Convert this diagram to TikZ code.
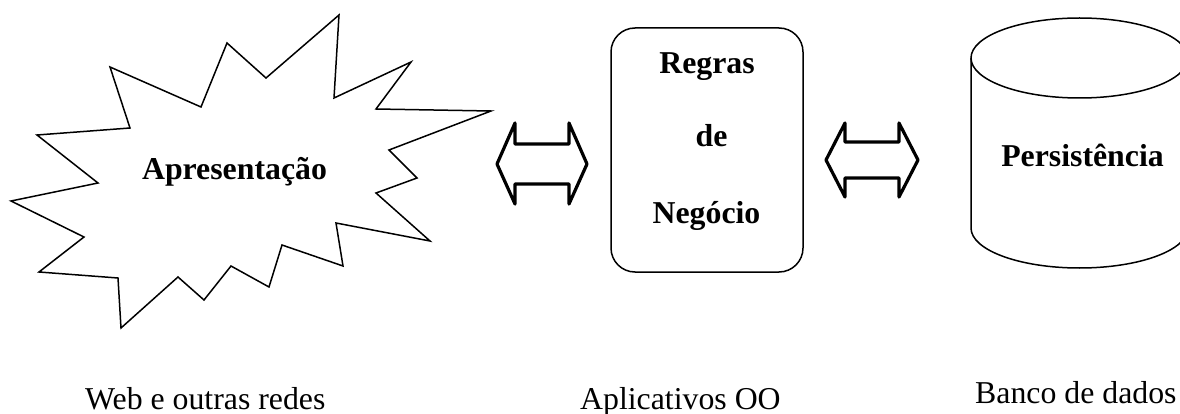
\documentclass[tikz,border=0pt]{standalone}
\usepackage{fontspec}
\setmainfont{Liberation Serif}
\tikzset{
  outline/.style={draw=black,line width=1.5pt,line join=miter},
  dblarrow/.style={draw=black,line width=3.2pt,line join=round,line cap=round},
  title/.style={font=\fontsize{31.8}{34}\selectfont\bfseries,anchor=base,inner sep=0pt},
  caption/.style={font=\fontsize{31.8}{34}\selectfont,anchor=base west,inner sep=0pt}
}
\begin{document}
\begin{tikzpicture}[x=1pt,y=-1pt]
\useasboundingbox (0,0) rectangle (1180,414);
% star
\draw[outline] (110,67)--(201,107)--(227,43)--(266,78)--(339,15)--(334,98)--(411,62)--(376,109)--(491,111)--(389,150)--(417,178)--(376,193)--(430,241)--(336,223)--(343,266)--(282,245)--(269,287)--(231,266)--(204,300)--(178,277)--(121,328)--(118,278)--(39,272)--(84,237)--(11,201)--(98,183)--(37,135)--(130,128)--cycle;
% left double arrow
\draw[dblarrow] (497,164)--(515,123)--(515,144)--(569,144)--(569,123)--(587,164)--(569,204)--(569,184)--(515,184)--(515,204)--cycle;
% rounded box
\draw[outline,rounded corners=24pt] (611,28) rectangle (803,272);
% right double arrow
\draw[dblarrow] (826,160)--(845,123)--(845,142)--(899,142)--(899,123)--(918,160)--(899,197)--(899,178)--(845,178)--(845,197)--cycle;
% cylinder
\begin{scope}
\clip (0,0) rectangle (1180,414);
\draw[outline] (1079.5,58) ellipse [x radius=108.5,y radius=40];
\draw[outline] (971,58)--(971,228) arc[start angle=180,end angle=0,x radius=108.5,y radius=40]--(1188,58);
\end{scope}
% texts
\node[title] (apres) at (234.5,180) {Apresentação};
\node[title] (regras) at (707,74) {Regras};
\node[title] (de) at (711.5,147) {de};
\node[title] (negocio) at (706.5,223) {Negócio};
\node[title] (persist) at (1082.5,167) {Persistência};
\node[caption] (web) at (85,409) {Web e outras redes};
\node[caption] (apl) at (580,409) {Aplicativos OO};
\node[caption] (banco) at (975,403) {Banco de dados};
\end{tikzpicture}
\end{document}
